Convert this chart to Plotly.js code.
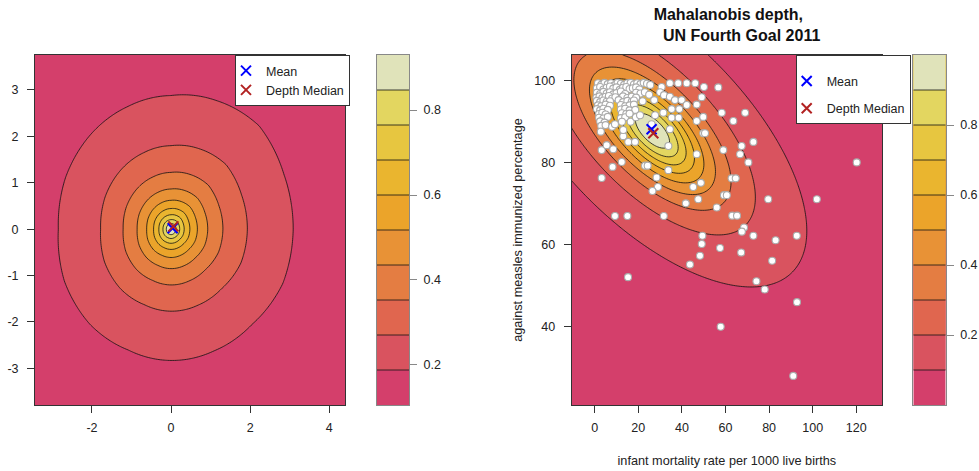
<!DOCTYPE html>
<html><head><meta charset="utf-8">
<script src="https://cdn.plot.ly/plotly-3.0.1.min.js"></script>
<style>body{margin:0;background:#fff}#chart{width:979px;height:471px}</style>
</head><body><div id="chart"></div>
<script>
// ---------- shared palette (10 depth bands, low -> high) ----------
const depthPalette = ['#D43F6B','#D9535F','#E0664F','#E47D42','#E89236','#EBA42A','#EAB52F','#E7C640','#E3D660','#E0E3BA'];

// ---------- left panel: depth of a bivariate sample ----------
const leftContourAngles = [0,22.5,45,67.5,90,112.5,135,157.5,180,202.5,225,247.5,270,292.5,315,337.5];
const leftOuterRadius   = [3.09,3.09,3.15,3.00,2.88,2.86,2.88,2.89,2.85,2.92,2.90,2.82,2.83,2.84,2.90,3.06];
const leftLevelStart = 0.188, leftLevelSize = 0.0824, leftLevelCount = 9;
const leftMean   = [0.04, 0.02];
const leftMedian = [0.06, 0.06];
const leftXTicks = [-2, 0, 2, 4];
const leftYTicks = [-3, -2, -1, 0, 1, 2, 3];
const leftXRange = [-3.44, 4.4];
const leftYRange = [-3.79, 3.76];

// ---------- right panel: Mahalanobis depth, UN Fourth Goal 2011 ----------
const infantMortality = [
 1.5,3,4.5,6,7.5,9,10.5,12,13.5,15,16.5,18,19.5,21,22.5,24,25.5,
 1,2.5,4,5.5,7,8.5,10,11.5,13,14.5,16,17.5,19,20.5,
 1,2.5,4,5.5,7,8.5,10,12,14,19,21,23,25,
 0.8,2.2,3.5,5,6.5,8,9.5,13,15,17,19,
 1,2.5,4,5.5,7,11,13,15,17,18,22,
 1.5,3,5,7,12,14,16,18,
 1,2.5,4,6,12,14,16,
 2,3.5,5,12.5,14.5,
 2,4,6,12,14,
 2.5,4.5,12.5,
 3,5,8,
 30.7,34.5,38.3,42.2,46.1,50.1,56.7,
 30.0,27.3,31.8,34.5,36.8,39.9,42.2,46.8,49.1,
 27.7,31.5,35.3,38.8,35.3,38.5,46.8,49.8,58.3,63.6,69.0,
 26.1,34.5,49.8,50.6,33.8,46.8,59.0,67.4,66.7,72.8,70.5,
 13.1,15.4,18.5,13.1,16.5,18.9,18.6,16.0,20.8,9.3,
 2.8,3.2,5.5,8.5,8.2,12.4,23.1,24.3,28.4,33.8,3.2,
 29.0,26.5,45.2,48.7,47.5,41.8,56.0,59.3,60.6,62.8,64.7,
 63.1,65.3,68.5,67.5,72.8,83.0,92.7,67.2,81.4,74.2,78.0,
 79.6,101.9,120.2,
 9.3,15.0,31.7,49.4,49.1,57.5,48.3,43.7,15.3,
 57.8,92.8,91.1
];
const measlesImmunized = [
 99.4,99.0,99.5,99.2,99.4,98.9,99.5,99.3,99.0,99.4,99.5,99.1,99.4,99.2,99.5,99.3,99.0,
 98.2,98.5,97.9,98.3,98.6,98.1,98.4,97.8,98.3,98.5,98.0,98.2,98.4,97.9,
 97.1,96.8,97.3,96.9,97.2,96.7,97.0,97.4,96.8,97.1,96.9,97.2,96.6,
 95.9,96.2,95.8,96.1,96.3,95.7,96.0,96.2,95.8,96.1,95.9,
 95.1,94.8,95.2,94.9,95.0,95.3,94.8,95.1,94.9,95.2,95.0,
 94.0,93.8,94.2,93.9,94.1,93.8,94.0,94.2,
 93.1,92.8,93.2,92.9,93.0,93.2,92.8,
 91.9,92.2,91.8,92.1,91.9,
 91.0,90.8,91.2,90.9,91.1,
 90.1,89.8,90.0,
 89.0,89.2,88.8,
 98.5,99.4,99.4,99.4,99.4,98.5,98.4,
 97.2,95.3,96.5,96.1,95.3,95.3,94.1,94.2,96.0,
 91.6,92.2,93.1,93.1,91.0,91.0,90.2,91.2,92.2,90.2,92.2,
 89.4,88.2,87.2,87.2,84.1,82.1,83.1,84.1,82.1,85.1,80.1,
 86.5,85.1,85.1,88.0,90.0,91.1,92.9,92.0,91.6,89.4,
 87.6,83.1,84.3,83.3,79.0,80.2,79.3,79.3,76.4,78.2,76.3,
 74.1,73.1,74.1,75.1,71.1,70.1,69.1,72.1,72.1,76.2,76.2,
 67.1,67.1,64.2,63.2,62.2,61.1,62.2,58.1,56.1,51.1,49.1,
 71.1,71.1,80.1,
 67.0,67.0,67.0,62.2,60.2,59.2,57.3,55.2,52.1,
 40.0,46.0,28.0
];
const unMean   = [26.1, 88.2];
const unMedian = [26.9, 87.2];
const mahalCenter = [26.5, 87.8];   // centre of the depth ellipses
const mahalSd     = [23.6, 12.7];   // spread
const mahalRho    = -0.64;
const rightLevelStart = 0.1, rightLevelSize = 0.1, rightLevelCount = 9;
const rightXTicks = [0, 20, 40, 60, 80, 100, 120];
const rightYTicks = [40, 60, 80, 100];
const rightXRange = [-10.55, 131.8];
const rightYRange = [20.9, 106.3];
const colorbarTicks = [0.2, 0.4, 0.6, 0.8];

// ---------- helpers ----------
function linspace(a, b, n) { const o = []; for (let i = 0; i < n; i++) o.push(a + (b - a) * i / (n - 1)); return o; }
function outerRadiusAt(deg) {
  const step = 360 / leftContourAngles.length;
  const t = ((deg % 360) + 360) % 360 / step;
  const i0 = Math.floor(t) % leftOuterRadius.length, i1 = (i0 + 1) % leftOuterRadius.length;
  const f = t - Math.floor(t);
  return leftOuterRadius[i0] * (1 - f) + leftOuterRadius[i1] * f;
}
const leftGX = linspace(leftXRange[0], leftXRange[1], 181);
const leftGY = linspace(leftYRange[0], leftYRange[1], 181);
const leftZ = leftGY.map(y => leftGX.map(x => {
  const r = Math.hypot(x, y);
  const R = outerRadiusAt(Math.atan2(y, x) * 180 / Math.PI);
  return 1 / (1 + (r / R) * (1 / leftLevelStart - 1));
}));
const rightGX = linspace(rightXRange[0], rightXRange[1], 181);
const rightGY = linspace(rightYRange[0], rightYRange[1], 181);
const rightZ = rightGY.map(y => rightGX.map(x => {
  const u = (x - mahalCenter[0]) / mahalSd[0], v = (y - mahalCenter[1]) / mahalSd[1];
  const d2 = (u * u - 2 * mahalRho * u * v + v * v) / (1 - mahalRho * mahalRho);
  return 1 / (1 + d2);
}));
const bandScale = depthPalette.map((c, k) => [k / (depthPalette.length - 1), c]);

// colour keys: the same levels drawn as a vertical strip
const leftKeyRange  = [leftLevelStart - leftLevelSize, leftLevelStart + leftLevelCount * leftLevelSize];
const rightKeyRange = [rightLevelStart - rightLevelSize, rightLevelStart + rightLevelCount * rightLevelSize];
const leftKeyY  = linspace(leftKeyRange[0], leftKeyRange[1], 301);
const rightKeyY = linspace(rightKeyRange[0], rightKeyRange[1], 301);

const W = 979, H = 471;
const FONT = 'Liberation Sans, Arial, sans-serif';
const txt = '#222';
const contourLine = {color: '#111', width: 0.8};

function contourTrace(x, y, z, xa, ya, start, size, count) {
  const end = start + (count - 1) * size + size * 0.01;
  return {type: 'contour', x, y, z, xaxis: xa, yaxis: ya, autocontour: false,
    contours: {start, end, size, coloring: 'fill', showlines: true},
    colorscale: bandScale, line: contourLine, showscale: false, showlegend: false, hoverinfo: 'skip'};
}
function xMark(pt, xa, ya, name, color, legend, group) {
  return {type: 'scatter', mode: 'markers', x: [pt[0]], y: [pt[1]], xaxis: xa, yaxis: ya, name, legend, legendgroup: group,
    marker: {symbol: 'x-thin-open', size: 10, color, line: {width: 2, color}}};
}

const traces = [
  contourTrace(leftGX, leftGY, leftZ, 'x', 'y', leftLevelStart, leftLevelSize, leftLevelCount),
  xMark(leftMean, 'x', 'y', 'Mean', '#0000FF', 'legend', 'a'),
  xMark(leftMedian, 'x', 'y', 'Depth Median', '#B22222', 'legend', 'a'),
  contourTrace([0, 1], leftKeyY, leftKeyY.map(v => [v, v]), 'x3', 'y3', leftLevelStart, leftLevelSize, leftLevelCount),
  contourTrace(rightGX, rightGY, rightZ, 'x2', 'y2', rightLevelStart, rightLevelSize, rightLevelCount),
  {type: 'scatter', mode: 'markers', x: infantMortality, y: measlesImmunized, xaxis: 'x2', yaxis: 'y2', showlegend: false,
   marker: {size: 7, color: '#FFFFFF', line: {width: 1.1, color: '#ABABAB'}}},
  xMark(unMean, 'x2', 'y2', 'Mean', '#0000FF', 'legend2', 'a'),
  xMark(unMedian, 'x2', 'y2', 'Depth Median', '#B22222', 'legend2', 'b'),
  contourTrace([0, 1], rightKeyY, rightKeyY.map(v => [v, v]), 'x4', 'y4', rightLevelStart, rightLevelSize, rightLevelCount)
];

function ax(domain, range, ticks, extra) {
  return Object.assign({domain, range, tickvals: ticks, ticktext: ticks.map(String), ticks: 'outside', ticklen: 7,
    tickcolor: '#333', tickwidth: 1, showline: true, mirror: true, linecolor: '#333', linewidth: 1,
    showgrid: false, zeroline: false, tickfont: {family: FONT, size: 12.5, color: txt}, automargin: false,
    fixedrange: true}, extra || {});
}
function keyX(domain, anchor) {
  return {domain, range: [0, 1], anchor, showline: true, mirror: true, linecolor: '#888', linewidth: 1,
    showticklabels: false, ticks: '', showgrid: false, zeroline: false, fixedrange: true};
}
function keyY(range, anchor) {
  return {domain: [1 - 405 / H, 1 - 55 / H], range, anchor, side: 'right', tickvals: colorbarTicks,
    ticktext: colorbarTicks.map(String), ticks: 'outside', ticklen: 7, tickcolor: '#888', showline: true,
    mirror: true, linecolor: '#888', linewidth: 1, showgrid: false, zeroline: false, ticklabelstandoff: 4,
    tickfont: {family: FONT, size: 12.5, color: txt}, fixedrange: true, automargin: false};
}
const layout = {
  width: W, height: H, margin: {l: 0, r: 0, t: 0, b: 0}, paper_bgcolor: '#fff', plot_bgcolor: '#fff',
  font: {family: FONT, size: 12.5, color: txt},
  title: {text: '<b>Mahalanobis depth,<br>      UN Fourth Goal 2011</b>', x: 728.3 / W, xanchor: 'center',
          y: 1 - 20 / H, yanchor: 'top', yref: 'container', font: {family: FONT, size: 16, color: '#111'}},
  xaxis: ax([35 / W, 345 / W], leftXRange, leftXTicks, {anchor: 'y', ticklabelstandoff: 4}),
  yaxis: ax([1 - 405 / H, 1 - 54.7 / H], leftYRange, leftYTicks, {anchor: 'x', ticklabelstandoff: 6}),
  xaxis2: ax([571.7 / W, 882 / W], rightXRange, rightXTicks, {anchor: 'y2', ticklabelstandoff: 4,
    title: {text: 'infant mortality rate per 1000 live births', standoff: 22, font: {family: FONT, size: 12.7, color: txt}}}),
  yaxis2: ax([1 - 405 / H, 1 - 55 / H], rightYRange, rightYTicks, {anchor: 'x2', ticklabelstandoff: 6,
    title: {text: 'against measles immunized percentage', standoff: 8, font: {family: FONT, size: 12.7, color: txt}}}),
  xaxis3: keyX([376.7 / W, 409 / W], 'y3'),
  yaxis3: keyY(leftKeyRange, 'x3'),
  xaxis4: keyX([913.3 / W, 945.7 / W], 'y4'),
  yaxis4: keyY(rightKeyRange, 'x4'),
  legend: {x: 235 / W, y: 1 - 55 / H, xanchor: 'left', yanchor: 'top', bgcolor: '#fff', bordercolor: '#333', borderwidth: 1,
           font: {family: FONT, size: 12.5, color: txt}, tracegroupgap: 0, indentation: -10},
  legend2: {x: 795.7 / W, y: 1 - 55 / H, xanchor: 'left', yanchor: 'top', bgcolor: '#fff', bordercolor: '#333', borderwidth: 1,
           font: {family: FONT, size: 12.5, color: txt}, tracegroupgap: 8, indentation: -10,
           title: {text: ' ', font: {size: 8}}}
};
Plotly.newPlot('chart', traces, layout, {displayModeBar: false, staticPlot: true});
</script></body></html>
